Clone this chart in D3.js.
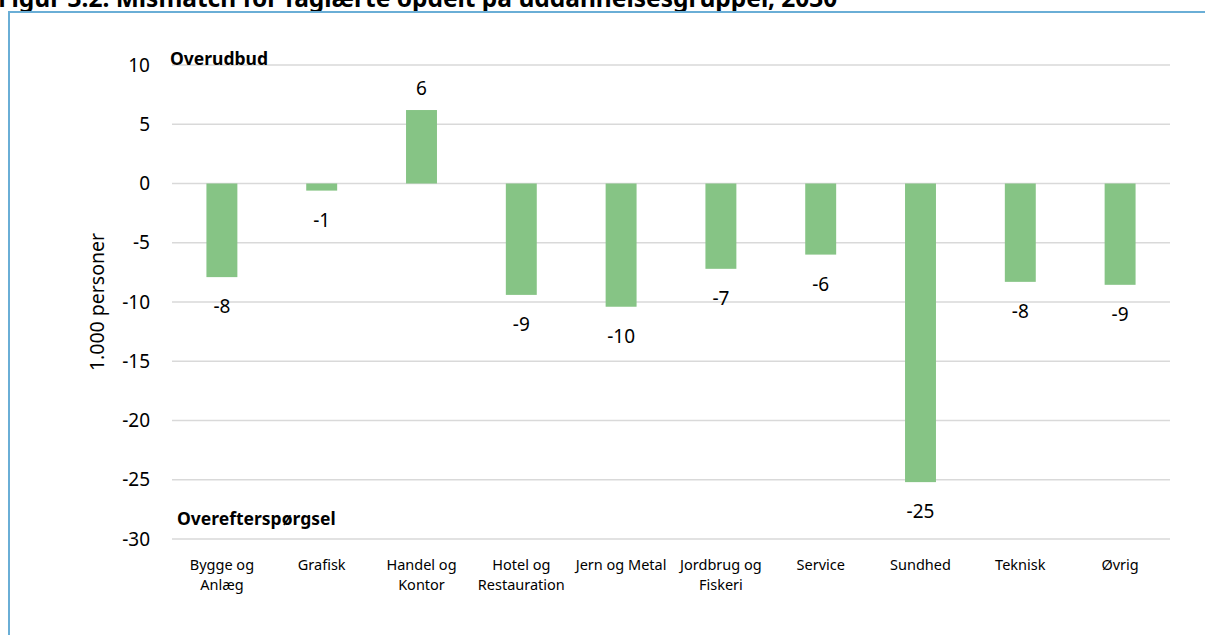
<!DOCTYPE html>
<html lang="da">
<head>
    <meta charset="UTF-8">
    <title>Mismatch for faglærte opdelt på uddannelsesgrupper, 2030</title>
    <script src="https://d3js.org/d3.v7.min.js"></script>
    <style>
        body { margin: 0; background: #fff; font-family: "Noto Sans", "Open Sans", sans-serif; }
        svg { display: block; }
    </style>
</head>
<body>
    <svg id="chart" width="1205" height="635"></svg>

    <script>
        // data (1.000 personer)
        const categories = ["Bygge og|Anlæg", "Grafisk", "Handel og|Kontor", "Hotel og|Restauration",
            "Jern og Metal", "Jordbrug og|Fiskeri", "Service", "Sundhed", "Teknisk", "Øvrig"];
        const values = [-7.9, -0.6, 6.2, -9.4, -10.4, -7.2, -6.0, -25.2, -8.3, -8.55];
        const yTicks = [10, 5, 0, -5, -10, -15, -20, -25, -30];

        // plain hyphen for negatives, like the source
        const fmt = d => String(Math.round(d)).replace("\u2212", "-");

        const svg = d3.select("#chart");

        // title, cut off at the top edge like the source
        svg.append("text")
            .attr("x", -2).attr("y", 7)
            .style("font-size", "24.5px").style("font-weight", "bold")
            .text("Figur 3.2. Mismatch for faglærte opdelt på uddannelsesgrupper, 2030");

        // frame
        svg.append("rect")
            .attr("x", 9).attr("y", 12).attr("width", 1220).attr("height", 640)
            .attr("fill", "none").attr("stroke", "#6aaed6").attr("stroke-width", 2);

        const left = 172, right = 1170;
        const y = d3.scaleLinear().domain([-30, 10]).range([539, 65]);
        const x = d3.scaleBand().domain(categories).range([left, right]).paddingInner(0.69).paddingOuter(0.345);

        // grid
        svg.append("g").selectAll("line").data(yTicks).join("line")
            .attr("x1", left).attr("x2", right)
            .attr("y1", d => y(d)).attr("y2", d => y(d))
            .attr("stroke", "#d9d9d9").attr("stroke-width", 1.3);

        // y axis labels
        const yAxis = svg.append("g")
            .attr("transform", `translate(${left - 8},0)`)
            .call(d3.axisLeft(y).tickValues(yTicks).tickSize(0).tickPadding(14).tickFormat(fmt));
        yAxis.select(".domain").remove();
        yAxis.selectAll("text")
            .style("font-family", "Noto Sans").style("font-size", "19px").attr("fill", "#000");

        svg.append("text")
            .attr("transform", "translate(104,302) rotate(-90)")
            .attr("text-anchor", "middle")
            .style("font-size", "19.5px")
            .text("1.000 personer");

        // bars
        svg.append("g").selectAll("rect").data(values).join("rect")
            .attr("x", (d, i) => x(categories[i]))
            .attr("width", x.bandwidth())
            .attr("y", d => y(Math.max(0, d)))
            .attr("height", d => Math.abs(y(d) - y(0)))
            .attr("fill", "#86c485");

        // value labels
        svg.append("g").selectAll("text").data(values).join("text")
            .attr("x", (d, i) => x(categories[i]) + x.bandwidth() / 2)
            .attr("y", d => d < 0 ? y(d) + 36 : y(d) - 15)
            .attr("text-anchor", "middle")
            .style("font-size", "19px")
            .text(fmt);

        // category labels
        const cat = svg.append("g").selectAll("text").data(categories).join("text")
            .attr("x", d => x(d) + x.bandwidth() / 2)
            .attr("y", 570)
            .attr("text-anchor", "middle")
            .style("font-size", "14.5px");
        cat.selectAll("tspan").data(d => d.split("|")).join("tspan")
            .attr("x", function () { return d3.select(this.parentNode).attr("x"); })
            .attr("dy", (d, i) => i === 0 ? 0 : 20)
            .text(d => d);

        // annotations
        svg.append("text").attr("x", 170).attr("y", 65)
            .style("font-size", "17.5px").style("font-weight", "bold").text("Overudbud");
        svg.append("text").attr("x", 177).attr("y", 525)
            .style("font-size", "17.5px").style("font-weight", "bold").text("Overefterspørgsel");
    </script>
</body>
</html>
